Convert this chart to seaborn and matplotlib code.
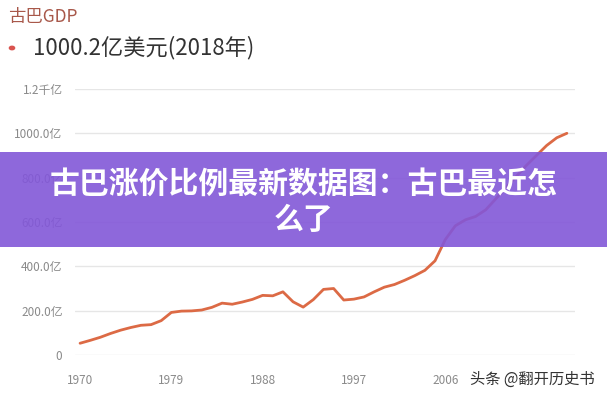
import seaborn as sns
import matplotlib.pyplot as plt
import pandas as pd
from matplotlib.patches import Rectangle

# Cuba GDP, 亿美元
years = list(range(1970, 2019))
gdp = [53, 66, 80, 97, 112, 124, 134, 137, 155, 192,
       198, 199, 203, 215, 234, 229, 239, 251, 269, 267,
       285, 240, 216, 250, 296, 300, 248, 252, 262, 285,
       306, 318, 337, 358, 382, 425, 520, 583, 610, 625,
       655, 705, 755, 805, 855, 900, 945, 980, 1000.2]

x_ticks = [1970, 1979, 1988, 1997, 2006]
y_ticks = [0, 200, 400, 600, 800, 1000, 1200]
y_labels = ["0", "200.0亿", "400.0亿", "600.0亿", "800.0亿", "1000.0亿", "1.2千亿"]

title_small = "古巴GDP"
headline = "1000.2亿美元(2018年)"
banner = "古巴涨价比例最新数据图：古巴最近怎\n么了"
watermark = "头条 @翻开历史书"

sns.set_theme(style="white")
plt.rcParams['font.family'] = ['Noto Sans CJK SC', 'DejaVu Sans']

df = pd.DataFrame({"year": years, "gdp": gdp})

fig = plt.figure(figsize=(6.07, 4.0), dpi=100)
ax = fig.add_axes([75 / 607, 45 / 400, 500 / 607, 266 / 400])

sns.lineplot(data=df, x="year", y="gdp", ax=ax, color="#dc6a45", linewidth=2.0)

ax.set_xlim(1969.5, 2018.8)
ax.set_ylim(0, 1200)
ax.set_xticks(x_ticks)
ax.set_xticklabels([str(t) for t in x_ticks])
ax.set_yticks(y_ticks)
ax.set_yticklabels(y_labels)
ax.set_xlabel("")
ax.set_ylabel("")
ax.yaxis.grid(True, color="#e6e6e6", linewidth=1)
for s in ax.spines.values():
    s.set_visible(False)
ax.tick_params(axis="y", length=0, pad=9, labelsize=8.5, labelcolor="#8a8a8a")
ax.tick_params(axis="x", length=0, pad=14, labelsize=8.5, labelcolor="#8a8a8a")

# header texts
fig.text(8 / 607, 1 - 17 / 400, title_small, fontsize=12.5, color="#a8584a",
         va="center", ha="left")
fig.patches.append(plt.Circle((12 / 607, 1 - 48 / 400), 2.6 / 607, color="#d9534f",
                              transform=fig.transFigure, figure=fig))
fig.text(33 / 607, 1 - 48 / 400, headline, fontsize=16, color="#333333",
         va="center", ha="left")

# purple banner
fig.patches.append(Rectangle((0, 153 / 400), 1, 95 / 400, transform=fig.transFigure,
                             facecolor="#8257d8", alpha=0.9, edgecolor="none",
                             figure=fig, zorder=5))
fig.text(0.5, 1 - 202 / 400, banner, fontsize=21.5, color="white",
         fontweight="black", ha="center", va="center", linespacing=1.25, zorder=6)

fig.text(595 / 607, 1 - 379 / 400, watermark, fontsize=11, color="#333333",
         ha="right", va="center")

plt.savefig("out.png", dpi=100)
